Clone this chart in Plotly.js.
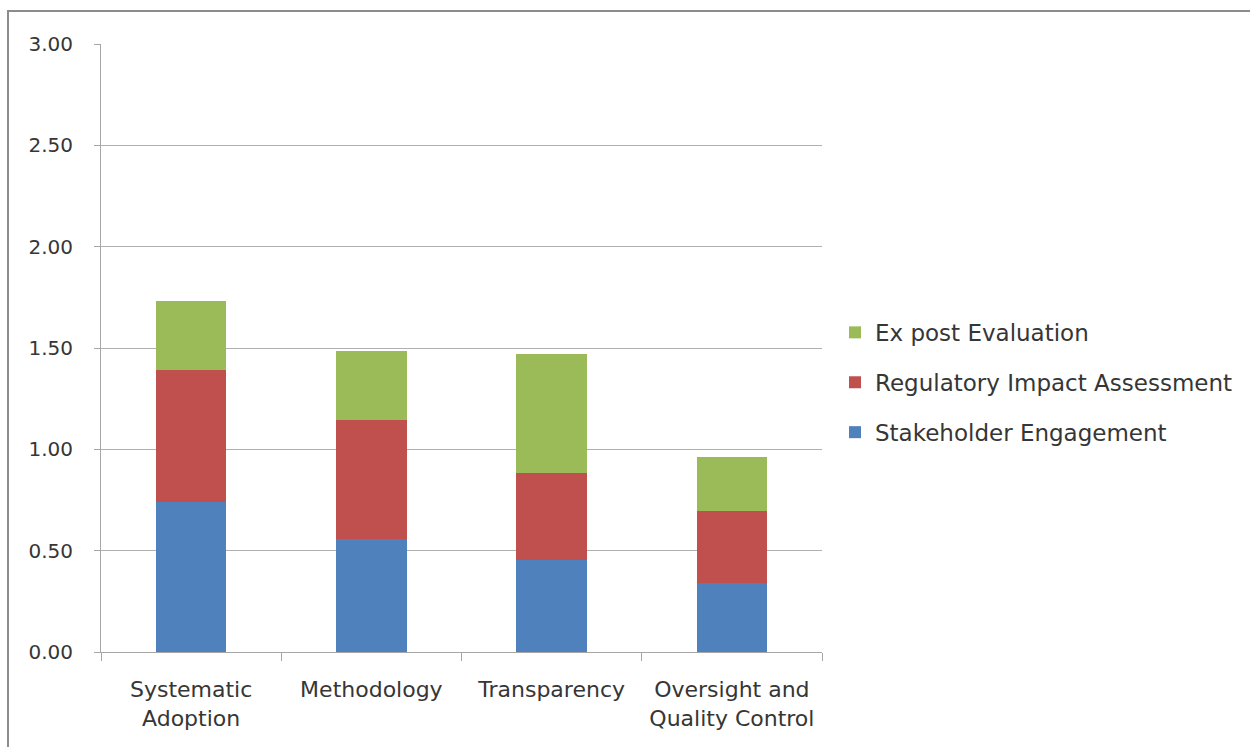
<!DOCTYPE html>
<html>
<head>
<meta charset="utf-8">
<script src="https://cdn.plot.ly/plotly-3.0.1.min.js"></script>
<style>
  html, body { margin: 0; padding: 0; background: #ffffff; }
  #chart { width: 1250px; height: 747px; }
</style>
</head>
<body>
<div id="chart"></div>
<script>
// Regulatory policy composite scores by criterion
const categories = [
  'Systematic<br>Adoption',
  'Methodology',
  'Transparency',
  'Oversight and<br>Quality Control'
];
const stakeholderEngagement = [0.74, 0.56, 0.455, 0.34];
const regulatoryImpactAssessment = [0.65, 0.585, 0.428, 0.356];
const exPostEvaluation = [0.34, 0.34, 0.587, 0.268];

const seriesNames = ['Stakeholder Engagement', 'Regulatory Impact Assessment', 'Ex post Evaluation'];
const seriesColors = ['#4F81BD', '#C0504D', '#9BBB59'];
const seriesValues = [stakeholderEngagement, regulatoryImpactAssessment, exPostEvaluation];

const FONT = '"DejaVu Sans", sans-serif';
const TEXT_COLOR = '#363636';

// stacked bottom-up; legend lists the top segment first
const traces = seriesValues.map((vals, i) => ({
  type: 'bar',
  name: seriesNames[i],
  x: categories,
  y: vals,
  marker: { color: seriesColors[i], line: { width: 0 } },
  legendgroup: 'g' + i,
  legendrank: 10 - i,
  hoverinfo: 'x+y+name'
}));

const layout = {
  width: 1250,
  height: 747,
  margin: { l: 101, r: 428, t: 44, b: 95 },
  paper_bgcolor: '#ffffff',
  plot_bgcolor: '#ffffff',
  barmode: 'stack',
  bargap: 0.61,
  font: { family: FONT, color: TEXT_COLOR, size: 20 },
  showlegend: true,
  legend: {
    x: 1.018, xanchor: 'left',
    y: 0.561, yanchor: 'top',
    traceorder: 'grouped',
    tracegroupgap: 17,
    font: { family: FONT, size: 23, color: TEXT_COLOR },
    bgcolor: 'rgba(0,0,0,0)'
  },
  xaxis: {
    type: 'category',
    showgrid: false,
    showline: true,
    linecolor: '#a6a6a6',
    linewidth: 1,
    ticks: 'outside',
    tickson: 'boundaries',
    ticklen: 8,
    tickcolor: '#a6a6a6',
    ticklabelstandoff: 18,
    tickfont: { family: FONT, size: 22, color: TEXT_COLOR },
    zeroline: false,
    fixedrange: true
  },
  yaxis: {
    range: [0, 3],
    dtick: 0.5,
    tick0: 0,
    tickformat: '.2f',
    showgrid: true,
    gridcolor: '#b0b0b0',
    gridwidth: 1,
    showline: true,
    linecolor: '#a6a6a6',
    linewidth: 1,
    ticks: 'outside',
    ticklen: 6,
    tickcolor: '#a6a6a6',
    ticklabelstandoff: 17,
    tickfont: { family: FONT, size: 20, color: TEXT_COLOR },
    zeroline: false,
    fixedrange: true
  },
  shapes: [
    // outer chart frame
    {
      type: 'rect', xref: 'paper', yref: 'paper',
      x0: -93 / 721, x1: 1260 / 721 - 101 / 721,
      y0: -110 / 608, y1: 1 + 33 / 608,
      line: { color: '#8c8c8c', width: 2 },
      fillcolor: 'rgba(0,0,0,0)', layer: 'below'
    }
  ]
};

Plotly.newPlot('chart', traces, layout, { displayModeBar: false, staticPlot: true });
</script>
</body>
</html>
